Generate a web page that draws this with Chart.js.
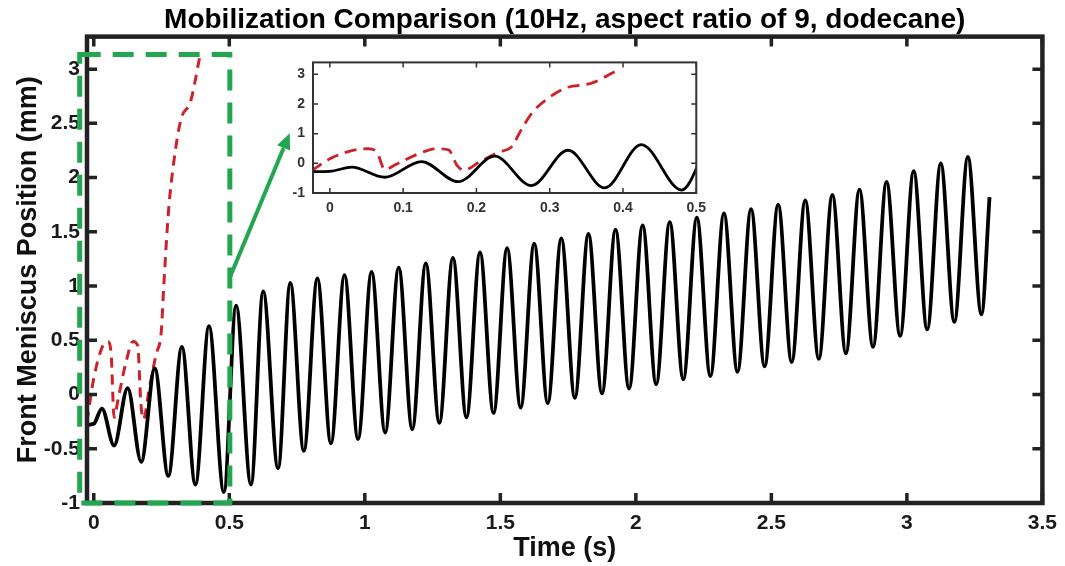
<!DOCTYPE html>
<html>
<head>
<meta charset="utf-8">
<script src="https://cdn.jsdelivr.net/npm/chart.js@4.4.1/dist/chart.umd.min.js"></script>
<style>
  html, body { margin: 0; padding: 0; background: #fff; }
  #wrap { position: relative; width: 1065px; height: 566px; }
  #main { position: absolute; left: 0; top: 0; }
  #inset { position: absolute; left: 268px; top: 46px; }
</style>
</head>
<body>
<div id="wrap">
  <canvas id="main" width="1065" height="566"></canvas>
  <canvas id="inset" width="445" height="176"></canvas>
</div>
<script>
// black solid line: extrema (s, mm)
const blackTime = [-0.025, 0.0, 0.03, 0.075, 0.125, 0.175, 0.225, 0.275, 0.325, 0.375, 0.425, 0.48,
  0.525, 0.58, 0.625, 0.68, 0.725, 0.775, 0.825, 0.875, 0.925, 0.975, 1.025, 1.075, 1.125, 1.175,
  1.225, 1.275, 1.325, 1.375, 1.425, 1.475, 1.525, 1.575, 1.625, 1.675, 1.725, 1.775, 1.825, 1.875,
  1.925, 1.975, 2.025, 2.075, 2.125, 2.175, 2.225, 2.275, 2.325, 2.375, 2.425, 2.475, 2.525, 2.575,
  2.625, 2.675, 2.725, 2.775, 2.825, 2.875, 2.925, 2.975, 3.025, 3.075, 3.125, 3.175, 3.225, 3.275, 3.305];
const blackPos = [-0.28, -0.27, -0.13, -0.47, 0.06, -0.62, 0.24, -0.75, 0.44, -0.83, 0.63, -0.9,
  0.82, -0.83, 0.95, -0.68, 1.03, -0.52, 1.07, -0.45, 1.1, -0.41, 1.13, -0.35, 1.17, -0.32,
  1.21, -0.26, 1.26, -0.21, 1.31, -0.17, 1.35, -0.12, 1.39, -0.08, 1.44, -0.03, 1.48, 0.01,
  1.52, 0.055, 1.56, 0.095, 1.59, 0.14, 1.63, 0.17, 1.67, 0.21, 1.71, 0.26, 1.75, 0.3,
  1.79, 0.33, 1.84, 0.38, 1.89, 0.44, 1.96, 0.54, 2.06, 0.6, 2.13, 0.67, 2.19, 0.74, 1.82];

// red dashed line
const redTime = [-0.025, 0.0, 0.03, 0.052, 0.064, 0.075, 0.09, 0.12, 0.145, 0.162, 0.174, 0.183,
  0.205, 0.23, 0.249, 0.258, 0.276, 0.295, 0.322, 0.357, 0.39];
const redPos = [-0.25, 0.15, 0.43, 0.49, 0.38, -0.21, -0.04, 0.31, 0.49, 0.45, -0.09, -0.23,
  0.06, 0.37, 0.58, 0.99, 1.7, 2.14, 2.54, 2.7, 3.1];

const xTicks = [0, 0.5, 1, 1.5, 2, 2.5, 3, 3.5];
const yTicks = [-1, -0.5, 0, 0.5, 1, 1.5, 2, 2.5, 3];
const insetXTicks = [0, 0.1, 0.2, 0.3, 0.4, 0.5];
const insetYTicks = [-1, 0, 1, 2, 3];

// zoom box and arrow, in data units of the main axes
const zoomBox = { x0: -0.052, x1: 0.502, y0: -1, y1: 3.134 };
const arrowFrom = { x: 0.502, y: 1.08 };
const arrowTo = { x: 0.723, y: 2.41 };

const FONT = "'Liberation Sans', Arial, sans-serif";
const toPoints = (xs, ys) => xs.map((x, i) => ({ x: x, y: ys[i] }));
const fixTicks = vals => s => { s.ticks = vals.map(v => ({ value: v })); };

// MATLAB style box with inward ticks on all four sides
const framePlugin = {
    id: 'frame',
    beforeDatasetsDraw(chart, args, opts) {
        if (!opts.fill) return;
        const a = chart.chartArea;
        chart.ctx.save();
        chart.ctx.fillStyle = opts.fill;
        chart.ctx.fillRect(a.left, a.top, a.right - a.left, a.bottom - a.top);
        chart.ctx.restore();
    },
    afterDatasetsDraw(chart, args, opts) {
        const { ctx, chartArea: a, scales: { x, y } } = chart;
        ctx.save();
        ctx.strokeStyle = opts.color;
        ctx.lineWidth = opts.tickWidth;
        ctx.beginPath();
        x.ticks.forEach(t => {
            const px = x.getPixelForValue(t.value);
            ctx.moveTo(px, a.bottom); ctx.lineTo(px, a.bottom - opts.tickLen);
            ctx.moveTo(px, a.top); ctx.lineTo(px, a.top + opts.tickLen);
        });
        y.ticks.forEach(t => {
            const py = y.getPixelForValue(t.value);
            ctx.moveTo(a.left, py); ctx.lineTo(a.left + opts.tickLen, py);
            ctx.moveTo(a.right, py); ctx.lineTo(a.right - opts.tickLen, py);
        });
        ctx.stroke();
        ctx.lineWidth = opts.width;
        ctx.strokeRect(a.left, a.top, a.right - a.left, a.bottom - a.top);
        ctx.restore();
    }
};

// green dashed zoom box + arrow pointing at the inset
const zoomMarks = {
    id: 'zoomMarks',
    afterDraw(chart) {
        const { ctx, scales: { x, y } } = chart;
        const l = x.getPixelForValue(zoomBox.x0), r = x.getPixelForValue(zoomBox.x1);
        const t = y.getPixelForValue(zoomBox.y1), b = y.getPixelForValue(zoomBox.y0);
        ctx.save();
        ctx.strokeStyle = '#22a64f';
        ctx.fillStyle = '#22a64f';
        ctx.lineWidth = 5;
        ctx.setLineDash([21, 12]);
        ctx.strokeRect(l, t, r - l, b - t);

        ctx.setLineDash([]);
        const x1 = x.getPixelForValue(arrowFrom.x), y1 = y.getPixelForValue(arrowFrom.y);
        const x2 = x.getPixelForValue(arrowTo.x), y2 = y.getPixelForValue(arrowTo.y);
        const ang = Math.atan2(y2 - y1, x2 - x1);
        const head = 16, half = 7;
        const bx = x2 - head * Math.cos(ang), by = y2 - head * Math.sin(ang);
        ctx.lineWidth = 4;
        ctx.beginPath();
        ctx.moveTo(x1, y1);
        ctx.lineTo(bx, by);
        ctx.stroke();
        ctx.beginPath();
        ctx.moveTo(x2, y2);
        ctx.lineTo(bx + half * Math.sin(ang), by - half * Math.cos(ang));
        ctx.lineTo(bx - half * Math.sin(ang), by + half * Math.cos(ang));
        ctx.closePath();
        ctx.fill();
        ctx.restore();
    }
};

const lineSets = (blackWidth, redWidth, dash) => [
    {
        data: toPoints(blackTime, blackPos),
        showLine: true,
        borderColor: '#000',
        borderWidth: blackWidth,
        pointRadius: 0,
        cubicInterpolationMode: 'monotone'
    },
    {
        data: toPoints(redTime, redPos),
        showLine: true,
        borderColor: '#cc2229',
        borderWidth: redWidth,
        borderDash: dash,
        pointRadius: 0,
        cubicInterpolationMode: 'monotone'
    }
];

new Chart(document.getElementById('main'), {
    type: 'scatter',
    data: { datasets: lineSets(3.8, 3, [10, 7]) },
    options: {
        responsive: false,
        animation: false,
        events: [],
        layout: { padding: { left: 0, right: 22, top: 0, bottom: 0 } },
        plugins: {
            legend: { display: false },
            tooltip: { enabled: false },
            title: {
                display: true,
                fullSize: false,
                text: 'Mobilization Comparison (10Hz, aspect ratio of 9, dodecane)',
                color: '#000',
                font: { family: FONT, size: 28, weight: 'bold' },
                padding: { top: 3, bottom: 0 }
            },
            frame: { color: '#222', width: 4.5, tickWidth: 3.5, tickLen: 10 }
        },
        scales: {
            x: {
                type: 'linear',
                min: -0.025,
                max: 3.5,
                afterBuildTicks: fixTicks(xTicks),
                afterFit: s => { s.height = 63; },
                grid: { display: false, drawTicks: false },
                border: { display: false },
                ticks: {
                    color: '#1a1a1a',
                    font: { family: FONT, size: 21, weight: 'bold' },
                    padding: 8,
                    maxRotation: 0,
                    autoSkip: false,
                    callback: v => String(v)
                },
                title: {
                    display: true,
                    text: 'Time (s)',
                    color: '#111',
                    font: { family: FONT, size: 27, weight: 'bold' },
                    padding: { top: 0, bottom: 1 }
                }
            },
            y: {
                type: 'linear',
                min: -1,
                max: 3.3,
                afterBuildTicks: fixTicks(yTicks),
                afterFit: s => { s.width = 87; },
                grid: { display: false, drawTicks: false },
                border: { display: false },
                ticks: {
                    color: '#1a1a1a',
                    font: { family: FONT, size: 21, weight: 'bold' },
                    padding: 7,
                    autoSkip: false,
                    callback: v => String(v)
                },
                title: {
                    display: true,
                    text: 'Front Meniscus Position (mm)',
                    color: '#111',
                    font: { family: FONT, size: 27, weight: 'bold' },
                    padding: { top: 12, bottom: 0 }
                }
            }
        }
    },
    plugins: [framePlugin, zoomMarks]
});

new Chart(document.getElementById('inset'), {
    type: 'scatter',
    data: { datasets: lineSets(2.8, 2.8, [12, 7]) },
    options: {
        responsive: false,
        animation: false,
        events: [],
        layout: { padding: { left: 0, right: 14, top: 6, bottom: 0 } },
        plugins: {
            legend: { display: false },
            tooltip: { enabled: false },
            frame: { color: '#333', width: 2, tickWidth: 1.5, tickLen: 5, fill: '#fff' }
        },
        scales: {
            x: {
                type: 'linear',
                min: -0.023,
                max: 0.5,
                afterBuildTicks: fixTicks(insetXTicks),
                afterFit: s => { s.height = 29; },
                grid: { display: false, drawTicks: false },
                border: { display: false },
                ticks: {
                    color: '#333',
                    font: { family: FONT, size: 14, weight: 'bold' },
                    padding: 7,
                    maxRotation: 0,
                    autoSkip: false,
                    callback: v => String(v)
                }
            },
            y: {
                type: 'linear',
                min: -1,
                max: 3.4,
                afterBuildTicks: fixTicks(insetYTicks),
                afterFit: s => { s.width = 45; },
                grid: { display: false, drawTicks: false },
                border: { display: false },
                ticks: {
                    color: '#333',
                    font: { family: FONT, size: 14, weight: 'bold' },
                    padding: 8,
                    autoSkip: false,
                    callback: v => String(v)
                }
            }
        }
    },
    plugins: [framePlugin]
});
</script>
</body>
</html>
